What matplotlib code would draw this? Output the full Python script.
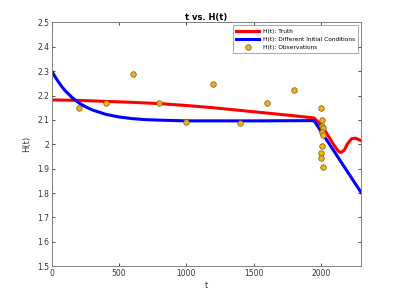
import matplotlib
matplotlib.use("Agg")
import matplotlib.pyplot as plt

# truth curve
truth_t = [0, 200, 400, 600, 800, 1000, 1200, 1400, 1600, 1800, 1950,
           2000, 2050, 2100, 2130, 2150, 2175, 2200, 2230, 2260, 2290, 2300]
truth_h = [2.182, 2.180, 2.176, 2.172, 2.167, 2.159, 2.150, 2.139, 2.128, 2.117, 2.108,
           2.080, 2.040, 1.995, 1.972, 1.966, 1.976, 2.003, 2.023, 2.025, 2.017, 2.015]

# run with different initial conditions
diff_t = [0, 25, 50, 75, 100, 150, 200, 250, 300, 400, 500, 600, 700, 800,
          1000, 1200, 1500, 1950, 2300]
diff_h = [2.300, 2.276, 2.255, 2.236, 2.219, 2.192, 2.170, 2.154, 2.141, 2.123,
          2.112, 2.105, 2.101, 2.099, 2.096, 2.096, 2.096, 2.097, 1.802]

# observations
obs_t = [200, 400, 600, 800, 1000, 1200, 1400, 1600, 1800,
         2005, 2012, 2010, 2016, 2008, 2018, 2006, 2004, 2003, 2014]
obs_h = [2.149, 2.171, 2.287, 2.170, 2.091, 2.246, 2.086, 2.170, 2.223,
         2.149, 2.100, 2.075, 2.068, 2.049, 2.036, 1.994, 1.966, 1.942, 1.906]

gray = "#7f7f7f"
fig = plt.figure(figsize=(3.99, 2.99), dpi=100)
ax = fig.add_axes([0.13, 0.11, 0.775, 0.815])

ax.plot(truth_t, truth_h, color="#ff0000", lw=2.2, label="H(t): Truth")
ax.plot(diff_t, diff_h, color="#0000ff", lw=2.2, label="H(t): Different Initial Conditions")
ax.plot(obs_t, obs_h, "o", ls="none", ms=4, mfc="#edb120", mec="#7a5a10", mew=0.5,
        label="H(t): Observations")

ax.set_xlim(0, 2300)
ax.set_ylim(1.5, 2.5)
ax.set_xticks([0, 500, 1000, 1500, 2000])
ax.set_yticks([1.5, 1.6, 1.7, 1.8, 1.9, 2.0, 2.1, 2.2, 2.3, 2.4, 2.5])
ax.set_yticklabels(["1.5", "1.6", "1.7", "1.8", "1.9", "2", "2.1", "2.2", "2.3", "2.4", "2.5"])
ax.tick_params(direction="in", length=2.5, width=0.6, labelsize=5.5, colors="#333333",
               top=True, right=True, pad=2)
for s in ax.spines.values():
    s.set_color(gray)
    s.set_linewidth(0.7)

ax.set_title("t vs. H(t)", fontsize=6, fontweight="bold", pad=2)
ax.set_xlabel("t", fontsize=6, color="#333333", labelpad=2)
ax.set_ylabel("H(t)", fontsize=6, color="#333333", labelpad=4)

leg = ax.legend(loc="upper right", fontsize=4.2, frameon=True, fancybox=False,
                handlelength=4.0, borderpad=0.55, labelspacing=0.5, handletextpad=0.6,
                borderaxespad=0.5)
leg.get_frame().set_edgecolor(gray)
leg.get_frame().set_linewidth(0.6)

fig.savefig("out.png", dpi=100)
